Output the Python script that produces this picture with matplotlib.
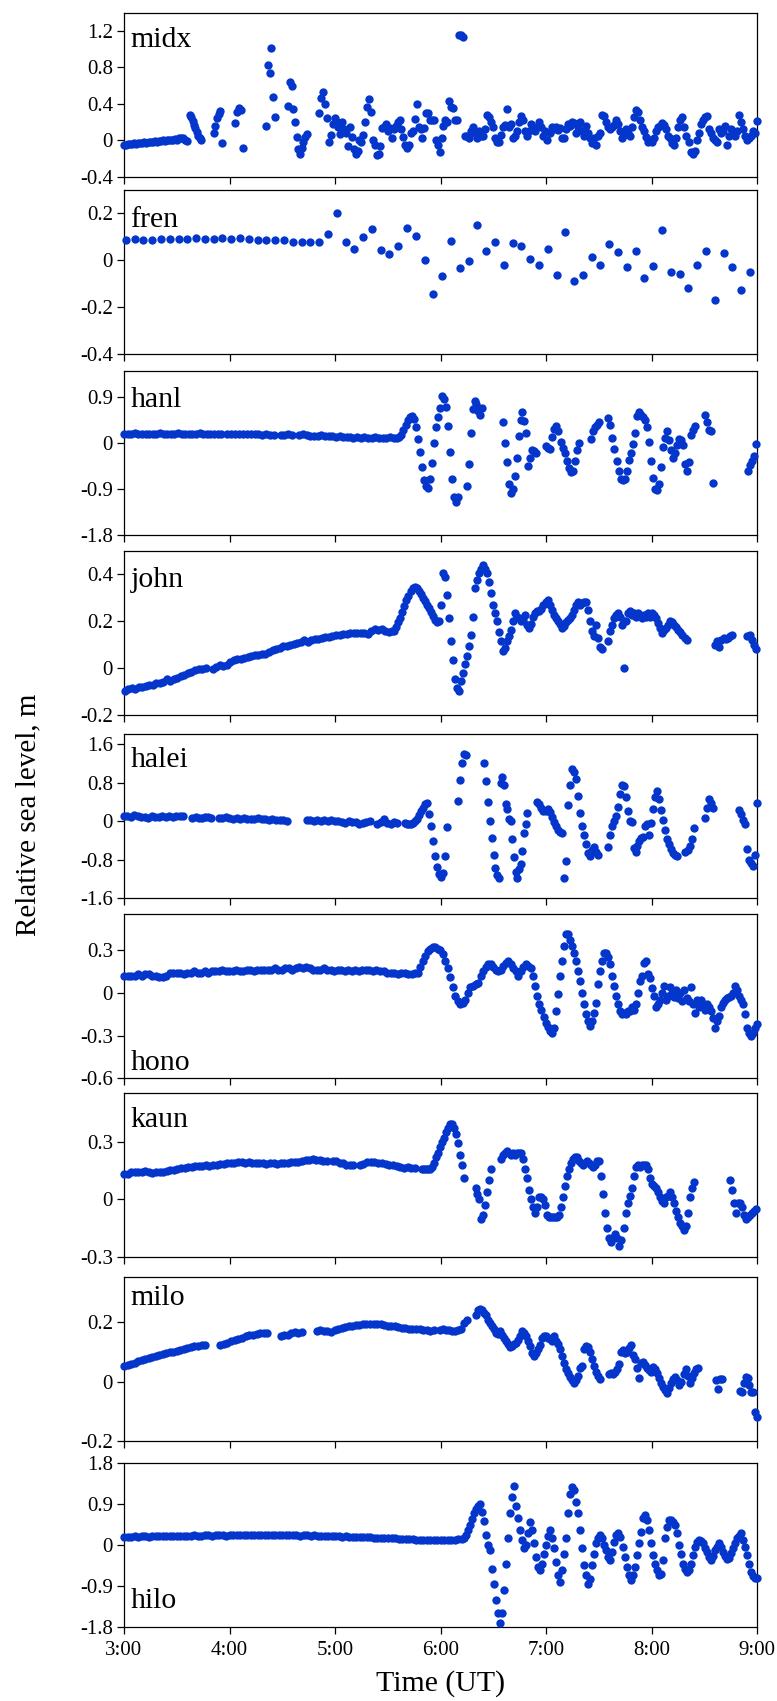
import numpy as np
import matplotlib
matplotlib.use("Agg")
import matplotlib.pyplot as plt
from matplotlib.ticker import FixedLocator, FixedFormatter

plt.rcParams['font.family'] = ['Liberation Serif', 'DejaVu Serif']
plt.rcParams['axes.unicode_minus'] = False

# ---------------- DATA (sea level in cm; segments = (start hour UT, end hour UT, evenly sampled values)) -------------
midx = [
    (3.00, 3.60, [-5,-5,-4,-4,-4,-3,-4,-3,-3,-3,-2,-3,-2,-2,-2,-1,-2,-1,-1,0,-1,0,0,0,0,1,0,3,3,2,0,-1]),
    (3.625, 3.73, [28,25,21,17,13,9,5,2,0]),
    (3.85, 3.93, [8,16,24,29,32,-3]),
    (4.055, 4.13, [19,31,35,33,-8]),
    (4.35, 4.43, [16,83,74,101,47,25]),
    (4.556, 4.733, [38,64,60,34,20,4,-10,-15,-8,-2,4,7]),
    (4.852, 6.155, [30,46,53,40,24,-2,6,18,24,20,14,7,20,12,8,-6,15,4,-10,-15,-12,0,-2,6,20,37,45,31,0,-5,
                    -16,-15,-6,13,15,18,10,13,2,12,16,20,22,12,4,-5,-8,-5,8,10,23,40,15,12,3,13,30,30,22,22,
                    22,0,-5,-13,2,16,22,20,43,37,35,22,22]),
    (6.174, 9.0, [115,115,113,5,5,3,10,15,8,3,10,5,5,12,28,26,20,15,2,-2,-2,6,15,17,34,14,18,2,5,10,
                  20,27,22,10,5,10,18,12,10,14,20,15,5,10,0,8,15,12,15,11,13,3,3,12,18,16,20,19,8,15,
                  20,10,5,16,8,3,-3,2,-5,5,8,28,27,20,15,12,14,17,22,18,10,2,6,12,8,5,15,25,33,31,
                  22,15,10,4,-2,0,-2,3,10,14,16,19,17,12,5,2,-3,-5,2,15,22,25,15,5,-2,-13,-15,-12,0,8,
                  18,22,25,27,12,8,3,0,-2,12,8,10,16,-5,5,12,10,5,10,28,20,12,5,0,2,5,10,8,21]),
]

fren = [
    (3.0167, 8.933, [8.4,8.8,8.6,8.6,8.8,9.1,9.0,9.0,9.4,8.8,9.0,9.4,9.1,9.4,8.8,8.4,8.4,8.6,8.4,7.7,7.7,7.5,7.7,
                     11.2,20.0,7.5,4.7,9.6,13.3,4.1,2.7,6.1,13.5,10.4,0.0,-14.5,-6.7,8.2,-3.4,-0.3,15.0,3.7,7.7,
                     -2.0,7.2,5.8,0.6,-2.0,4.7,-6.5,11.8,-9.0,-6.5,1.1,-2.1,7.0,3.4,-2.8,3.8,-7.8,-2.6,13.0,-5.2,
                     -6.0,-11.8,-2.1,3.7,-17.2,3.0,-2.8,-13.0,-5.2]),
]

hanl = [
    (3.0, 3.921, [17,18,18,19,18,18,18,17,18,18,19,18,17,18,18,19,18,17,18,18,18,19,18,18,17,18,18,18]),
    (3.979, 4.422, [17,17,18,17,18,17,17,18,17,16,17,16,16]),
    (4.484, 4.590, [16,16,17,16]),
    (4.661, 5.115, [16,17,15,14,13,14,15,13,14,13,12,13,12,12]),
    (5.138, 5.592, [11,10,11,10,11,10,10,11,10,10,10,11,10,10]),
    (5.611, 6.165, [11,15,25,35,44,50,53,47,30,7,-18,-48,-72,-84,-88,-70,-39,0,30,50,68,92,85,69,32,-18,-70,-105,-115,-105]),
    (6.251, 6.394, [-84,-42,19,65,82,75,62,55,68]),
    (6.594, 6.905, [40,0,-38,-80,-98,-90,-65,-30,13,45,60,42,20,-45,-30,-15,-17,-20]),
    (7.0, 7.315, [-7,-10,-12,12,26,33,22,2,-10,-20,-35,-50,-57,-55,-35,-15,0]),
    (7.43, 7.506, [7,22,30,35,40]),
    (7.592, 8.413, [48,35,10,-12,-35,-55,-70,-72,-70,-55,-33,-20,-2,20,52,60,55,50,45,30,2,-35,-68,-90,-92,-80,
                    -48,-8,10,22,5,-15,-30,-20,-5,8,5,-5,-42,-55,-38,15,25,33]),
    (8.504, 8.585, [55,40,25,22,-78]),
    (8.919, 8.995, [-55,-43,-35,-25,-3]),
]

john = [
    (3.005, 3.773, [-9.7,-9,-8.5,-8.8,-8,-8.2,-7.6,-7.2,-7,-6.2,-6.5,-5.8,-4.8,-5.5,-4.8,-4,-3.5,-2.8,-2.2,-1.5,-0.8,-0.5,-0.4,0]),
    (3.84, 5.544, [-0.2,0.6,1.2,1,1.5,2.5,3.5,4,3.8,4.5,4.8,5,5.5,5.8,6,6.2,7,7.8,8.2,8.8,9.4,9.6,10,10.4,10.8,
                   11.2,11.8,11.2,11.8,12.4,12.5,13,13.2,13.5,13.8,14,14.2,14.5,14.5,14.8,14.8,15,14.8,15.2,14.5,
                   15.8,16.5,16.2,16.5,15.8,15.5,15.8]),
    (5.563, 7.53, [16,17.5,19.5,21.5,24,26.5,29,31,33,34,34.5,34.3,33,31.8,30,28.7,27,25.5,24,22.2,20.5,19.5,20,
                   27,40.4,39,31.2,21.3,11.4,3.3,-4.5,-8.5,-9.7,-5.5,-2,1.6,5,9.3,14.3,22,34,37.6,40.4,42.5,44.2,
                   42.5,40.4,36.9,32,27,23.5,20,15.4,11.4,7.2,8.6,11.4,13.6,16.4,20,23.5,22,21.3,20,20.6,22.8,18.5,
                   17.1,19,22,23.5,24.2,24.2,25.3,27,28.1,29,27,25,22.8,21.3,20.2,18.8,17.1,17.8,19.6,20.6,21.3,
                   22.8,25,27,28.1,27,27.7,28.1,28.1,25,20,15.7,13.6,18.5,13,9,8.3]),
    (7.587, 8.332, [11.4,15.7,18.5,21.3,22.8,23.5,22,18.5,20,20,23.5,24.2,22.8,23.5,22,23.5,22.8,21.3,22.8,22,
                    23.5,22,23.5,22.8,21.3,19.2,17.1,15,16.4,17.1,18.5,20,19.6,18.5,17.4,16.4,15.4,14.3,13,12]),
    (7.74, 7.74, [0]),
    (8.599, 8.766, [10,11.4,9,12,13,12.5,13,13.6,14]),
    (8.909, 8.995, [13.6,14,12,10,8.3]),
]

halei = [
    (3.0, 3.563, [10,10,8,12,10,8,9,7,10,8,9,10,8,10,9,10,11,10]),
    (3.649, 3.826, [7,8,6,7,9,8,6]),
    (3.897, 4.542, [6,7,9,7,5,6,5,6,5,5,4,6,5,4,3,4,3,2,3,1]),
    (4.733, 5.33, [2,3,1,2,1,3,0,2,1,0,-1,-3,0,-2,-1,-5,-4,-2,0]),
    (5.401, 5.592, [-5,-2,4,-3,-6,-2,-3]),
    (5.664, 6.064, [-3,-5,-6,-7,-4,0,5,12,20,28,35,38,15,-11,-42,-72,-95,-110,-116,-108,-72,-13]),
    (6.165, 6.241, [42,85,120,139,137]),
    (6.413, 6.556, [120,83,40,0,-35,-70,-98,-112,-118]),
    (6.570, 6.823, [80,92,75,35,25,5,0,-38,-75,-105,-118,-100,-88,-62,-25,-5,17]),
    (6.919, 7.148, [40,35,28,20,22,25,18,8,-2,-10,-18,-22,-25]),
    (7.167, 7.496, [-118,-83,33,75,108,102,87,52,16,-10,-28,-47,-66,-73,-59,-53,-65,-70]),
    (7.587, 8.241, [-53,-29,-10,0,10,29,56,75,72,49,20,1,-2,-56,-65,-52,-42,-35,-33,-10,-7,-28,-4,26,49,63,45,
                    24,3,-19,-37,-47,-58,-66,-70,-72]),
    (8.322, 8.399, [-65,-59,-51,-38,-15]),
    (8.504, 8.580, [7,28,45,38,28]),
    (8.828, 9.0, [24,14,3,-7,-57,-80,-87,-94,-70,37]),
]

hono = [
    (3.0, 5.759, [12,12,12,12,13,12,13,13,12,12,11,11,12,14,14,14,14,13,14,14,
                  15,14,14,15,14,15,15,15,16,15,15,15,16,15,15,16,16,15,16,16,
                  16,16,16,17,16,16,17,17,16,17,18,17,18,17,16,16,16,17,16,16,
                  15,16,16,15,16,15,16,15,16,16,16,15,16,15,15,14,14,14,13,14,
                  14,13,13,14]),
    (5.783, 6.881, [14,18,22,26,29,31,32,32,31,30,27,22,17,11,4,-2,-6,-8,-7,-5,0,4,5,6,7,12,15,18,20,20,
                    18,16,15,16,19,21,22,20,17,15,12,15,18,20,19,17,12]),
    (6.9, 9.0, [5,-2,-8,-12,-17,-21,-24,-27,-28,-25,-13,-1,12,22,33,41,41,37,33,28,22,15,8,0,-8,-15,-20,-23,-20,-14,
                -7,6,15,22,28,28,25,20,12,5,-2,-8,-13,-15,-14,-15,-13,-13,-10,-12,-8,0,8,12,21,22,13,10,3,-2,
                -10,-8,-5,0,5,-5,-2,4,0,-3,2,-4,0,-6,2,-4,-6,4,-8,-14,-5,-10,-5,-8,-12,-8,-10,-13,-18,-25,
                -20,-16,-10,-7,-5,-4,-3,-2,0,5,2,-2,-5,-8,-15,-25,-28,-30,-28,-25,-22]),
]

kaun = [
    (3.0, 4.924, [13,13,14,14,14,14,14.5,14,13.5,14,14,14,14.5,15,15.5,16,16.5,16.5,17,17,17.5,17.5,17.5,18,17.5,
                  18,18,18.5,18.5,19,19,19,19.5,19.5,19,19.5,19,19,19,19,18.5,19,19,18.5,19,19,19,19.5,19.5,19.5,
                  20,20.5,20.5,21,20.5,20.5,20,20]),
    (4.981, 5.172, [20,20,19,19,18,18,18]),
    (5.234, 5.759, [18,18.5,19.5,19.5,19.5,19,19,18.5,18,18,17.5,17,16.5,17,16.5,16.5]),
    (5.821, 6.222, [16,16,16,16,16,17,19,22,24,27,30,32,35,37,39,39,37,34,29,23,18,11]),
    (6.332, 6.48, [6,3,0,-10,-8,-3,4,10,16]),
    (6.570, 8.403, [21,23,24,25,24,23,24,23,24,24,24,21,16,11,5,0,-4,-7,-4,1,1,0,-3,-8,-9,-9,-9,-9,-9,-8,
                    -4,1,7,12,16,19,21,22,22,20,19,18,19,20,19,18,17,18,20,20,12,3,-7,-15,-20,-22,-20,-18,-20,-24,
                    -21,-15,-7,-2,2,6,12,17,18,17,18,18,18,16,11,8,7,6,4,1,-1,-2,1,2,4,1,-2,-6,-9,-12,
                    -14,-16,-14,-7,1,6,9]),
    (8.742, 8.99, [10,5,-2,-7,-2,-2,-4,-8,-10,-9,-8,-7,-6,-5]),
]

milo = [
    (3.0, 3.768, [5.3,5.6,6.0,6.4,6.8,7.2,7.5,7.9,8.2,8.6,9.0,9.2,9.6,9.8,10.0,10.4,10.7,11.0,11.2,11.5,11.8,12.0,12.2,12.4]),
    (3.912, 4.36, [12.2,12.6,13.1,13.5,13.9,14.4,14.8,15.3,15.5,15.7,16.0,16.2,16.4,16.2]),
    (4.484, 4.685, [15.2,15.5,15.8,16.3,16.5,16.3,16.7]),
    (4.828, 5.936, [16.9,17.2,16.9,17.0,16.8,17.3,17.6,17.9,18.3,18.5,18.8,19.0,19.1,19.2,19.3,19.3,19.4,19.2,19.3,
                    19.0,18.8,18.7,18.5,18.3,18.0,18.0,17.8,17.6,17.6,17.5,17.4,17.4,17.0,17.2]),
    (5.998, 6.251, [17.4,17.5,17.3,17.2,17.0,16.9,17.2,17.8,19.7,20.8]),
    (6.332, 7.516, [22.5,23.9,24.4,24,23,22.5,20.8,19.7,18.5,17.6,16.3,16.1,16.9,15.7,14.6,13.8,12.7,11.6,12,12.7,
                    13.1,14,15.2,16.9,16.3,15.2,13.8,12,9.6,8.7,9.6,10.9,12.4,14.6,15.4,15.2,14.6,14.3,13.8,15.2,
                    13.5,12.7,10.9,8.7,6.2,4.2,2.8,1.7,0.6,-0.3,0.6,1.9,4.5,5.1,10.9,12,11.6,9.8,7.5,5.1,
                    3.4,1.9,0.8]),
    (7.597, 8.437, [2.6,2.8,2.6,3.4,4.2,6.0,10.1,10.7,9.6,10.1,11.2,12.4,9.0,7.5,4.5,1.1,6.2,6.7,5.6,4.5,3.9,3.4,
                    4.8,4.2,2.8,1.1,-0.6,-1.9,-2.8,-3.7,-2.2,-0.6,0.8,1.5,0.6,-1.1,0.0,2.6,4.2,1.9,-0.6,1.1,3.0,4.2,4.5]),
    (8.609, 8.666, [0.6,-2.6,0.8,0.8]),
    (8.838, 9.0, [-3.0,-3.4,-0.6,1.5,1.1,-1.1,-3.4,-3.4,-10.1,-11.8]),
]

hilo = [
    (3.0, 6.203, [18,19,19,20,19,20,20,19,20,20,20,21,20,20,21,21,20,21,21,21,
                  22,21,21,22,22,21,22,22,22,21,22,22,23,22,22,23,23,22,23,22,
                  22,23,22,22,22,23,22,23,22,22,21,22,22,21,22,21,21,20,21,20,
                  20,20,19,20,19,19,18,19,18,18,18,17,17,17,16,16,15,15,14,14,
                  13,13,13,12,12,11,12,11,11,11,11,11,11,12,12,13,14]),
    (6.222, 9.0, [15,22,33,45,58,70,80,87,90,73,53,23,0,-10,-51,-86,-119,-148,-170,-148,
                  -99,-40,16,71,106,130,86,59,33,11,-7,0,26,51,33,4,-26,-48,-55,-40,
                  -18,0,20,34,17,-7,-37,-66,-80,-55,-18,17,71,113,128,122,95,70,33,-7,
                  -44,-66,-84,-73,-44,-18,4,15,22,17,0,-11,-26,-33,-15,7,22,26,18,-4,
                  -26,-48,-66,-77,-66,-48,-22,4,29,59,66,55,33,4,-22,-40,-55,-66,-62,-33,
                  15,40,55,56,51,44,26,0,-18,-40,-51,-59,-55,-40,-22,-4,7,11,10,4,
                  -5,-15,-26,-33,-24,-11,-4,4,-4,-15,-24,-29,-27,-17,-7,4,15,20,26,12,
                  -4,-22,-40,-59,-68,-71,-72]),
]

stations = ['midx', 'fren', 'hanl', 'john', 'halei', 'hono', 'kaun', 'milo', 'hilo']
station_data = [midx, fren, hanl, john, halei, hono, kaun, milo, hilo]
ylims = [(-0.4, 1.4), (-0.4, 0.3), (-1.8, 1.4), (-0.2, 0.5), (-1.6, 1.8),
         (-0.6, 0.55), (-0.3, 0.55), (-0.2, 0.35), (-1.8, 1.8)]
yticks = [[-0.4, 0, 0.4, 0.8, 1.2], [-0.4, -0.2, 0, 0.2], [-1.8, -0.9, 0, 0.9], [-0.2, 0, 0.2, 0.4],
          [-1.6, -0.8, 0, 0.8, 1.6], [-0.6, -0.3, 0, 0.3], [-0.3, 0, 0.3], [-0.2, 0, 0.2],
          [-1.8, -0.9, 0, 0.9, 1.8]]
ytick_labels = [['-0.4', '0', '0.4', '0.8', '1.2'], ['-0.4', '-0.2', '0', '0.2'], ['-1.8', '-0.9', '0', '0.9'],
                ['-0.2', '0', '0.2', '0.4'], ['-1.6', '-0.8', '0', '0.8', '1.6'], ['-0.6', '-0.3', '0', '0.3'],
                ['-0.3', '0', '0.3'], ['-0.2', '0', '0.2'], ['-1.8', '-0.9', '0', '0.9', '1.8']]
xticks = [3, 4, 5, 6, 7, 8, 9]
xtick_labels = ['3:00', '4:00', '5:00', '6:00', '7:00', '8:00', '9:00']
label_y = [0.79, 0.775, 0.78, 0.78, 0.80, 0.05, 0.795, 0.83, 0.116]

# ---------------- LAYOUT ----------------
W, H = 777, 1701
fig = plt.figure(figsize=(W / 100, H / 100), dpi=100)
left_px, right_px = 124, 757
tops_px = [12.7, 189.7, 371, 551, 734.3, 914.3, 1093.3, 1277.3, 1463.3]
h_px = 164
color = '#0536cc'


def series(segs):
    t, v = [], []
    for t0, t1, vals in segs:
        n = len(vals)
        t.append(np.linspace(t0, t1, n) if n > 1 else np.array([t0]))
        v.append(np.asarray(vals, float) / 100.0)
    return np.concatenate(t), np.concatenate(v)


for i, (name, segs) in enumerate(zip(stations, station_data)):
    top = tops_px[i]
    ax = fig.add_axes([left_px / W, 1 - (top + h_px) / H, (right_px - left_px) / W, h_px / H])
    t, v = series(segs)
    ax.scatter(t, v, s=36, color=color, linewidths=0, zorder=3, clip_on=False)
    ax.set_xlim(3, 9)
    ax.set_ylim(*ylims[i])
    ax.yaxis.set_major_locator(FixedLocator(yticks[i]))
    ax.yaxis.set_major_formatter(FixedFormatter(ytick_labels[i]))
    ax.xaxis.set_major_locator(FixedLocator(xticks))
    if i == len(stations) - 1:
        ax.xaxis.set_major_formatter(FixedFormatter(xtick_labels))
    else:
        ax.set_xticklabels([])
    ax.tick_params(axis='both', direction='out', length=5, width=0.9, labelsize=15, colors='black')
    ax.tick_params(axis='x', pad=5)
    ax.tick_params(axis='y', pad=3)
    for s in ax.spines.values():
        s.set_linewidth(0.9)
        s.set_color('black')
    ax.text(0.01, label_y[i], name, transform=ax.transAxes, fontsize=21.5, ha='left', va='baseline')

fig.text(28 / W, 0.521, 'Relative sea level, m', rotation=90, ha='center', va='center', fontsize=21)
fig.text((left_px + right_px) / 2 / W, 1 - 1684 / H, 'Time (UT)', ha='center', va='center', fontsize=21.5)

fig.savefig('out.png', dpi=100)
